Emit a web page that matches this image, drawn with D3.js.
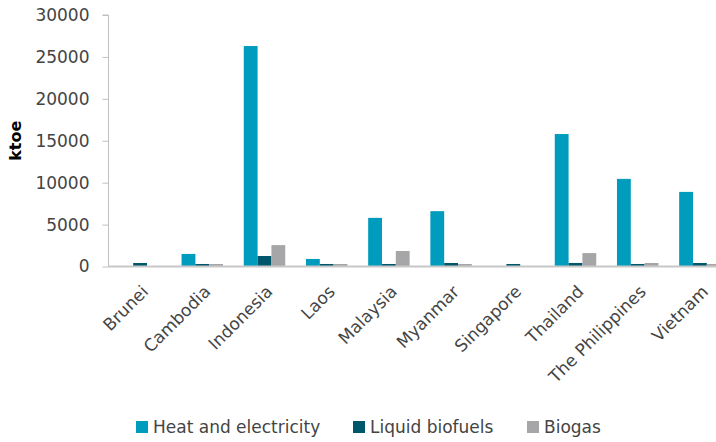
<!DOCTYPE html>
<html>
<head>
<meta charset="utf-8">
<script src="https://cdn.jsdelivr.net/npm/d3@7/dist/d3.min.js"></script>
<style>
  html, body { margin: 0; padding: 0; background: #fff; }
  svg { display: block; }
  text { font-family: "DejaVu Sans", sans-serif; }
</style>
</head>
<body>
<svg id="chart" width="716" height="442"></svg>
<script>
const categories = ["Brunei", "Cambodia", "Indonesia", "Laos", "Malaysia", "Myanmar", "Singapore", "Thailand", "The Philippines", "Vietnam"];
const seriesNames = ["Heat and electricity", "Liquid biofuels", "Biogas"];
const heatElectricity = [0, 1500, 26300, 900, 5800, 6600, 0, 15800, 10450, 8900];
const liquidBiofuels = [420, 300, 1250, 300, 300, 420, 300, 420, 300, 420];
const biogas = [0, 300, 2550, 300, 1850, 300, 0, 1600, 420, 300];
const yTicks = [0, 5000, 10000, 15000, 20000, 25000, 30000];
const colors = ["#009cbd", "#00566a", "#a6a6a8"];

const seriesValues = [heatElectricity, liquidBiofuels, biogas];
const svg = d3.select("#chart");

const x0 = d3.scaleBand().domain(categories).range([109, 731]).paddingInner(1/3).paddingOuter(1/6);
const x1 = d3.scaleBand().domain(seriesNames).range([0, x0.bandwidth()]);
const y = d3.scaleLinear().domain([0, 30000]).range([266.5, 15]);

// y axis
const yAxis = svg.append("g").attr("transform", "translate(108.5,0)")
  .call(d3.axisLeft(y).tickValues(yTicks).tickSize(6).tickPadding(13).tickFormat(d3.format("d")));
yAxis.select(".domain").attr("stroke", "#c0c0c0").attr("d", "M-6," + y(30000) + "H0V" + y(0));
yAxis.selectAll(".tick line").attr("stroke", "#c0c0c0");
yAxis.selectAll(".tick text").attr("fill", "#444").style("font-size", "17px").style("font-family", "DejaVu Sans");

// bars
const groups = svg.append("g").selectAll("g").data(categories).join("g")
  .attr("transform", d => `translate(${x0(d)},0)`);
groups.selectAll("rect")
  .data((c, i) => seriesNames.map((s, k) => ({ s, k, v: seriesValues[k][i] })))
  .join("rect")
  .attr("x", d => x1(d.s))
  .attr("width", x1.bandwidth())
  .attr("y", d => y(d.v))
  .attr("height", d => y(0) - y(d.v))
  .attr("fill", d => colors[d.k]);

// x axis
const xAxis = svg.append("g").attr("transform", `translate(0,${y(0)})`)
  .call(d3.axisBottom(x0).tickSize(0).tickPadding(0));
xAxis.select(".domain").attr("stroke", "#c8c8c8").attr("stroke-width", 2).attr("d", "M108,0H716");
xAxis.selectAll(".tick text")
  .attr("fill", "#444")
  .style("font-size", "17px")
  .style("font-family", "DejaVu Sans")
  .attr("text-anchor", "end")
  .attr("dy", "0.35em")
  .attr("transform", "translate(5,22) rotate(-45)")
  .attr("y", 0).attr("x", 0);

// y title
svg.append("text")
  .attr("transform", `translate(21,${(y(0) + y(30000)) / 2 + 0}) rotate(-90)`)
  .attr("x", 0).attr("y", 0)
  .attr("text-anchor", "middle")
  .style("font-size", "16px")
  .style("font-weight", "bold")
  .attr("fill", "#000")
  .text("ktoe");

// legend
const legendX = [136, 353, 527];
const legend = svg.append("g").selectAll("g").data(seriesNames).join("g")
  .attr("transform", (d, i) => `translate(${legendX[i]},421)`);
legend.append("rect").attr("width", 12).attr("height", 12).attr("fill", (d, i) => colors[i]);
legend.append("text").attr("x", 17).attr("y", 6).attr("dy", "0.35em")
  .attr("fill", "#444").style("font-size", "17px").text(d => d);
</script>
</body>
</html>
